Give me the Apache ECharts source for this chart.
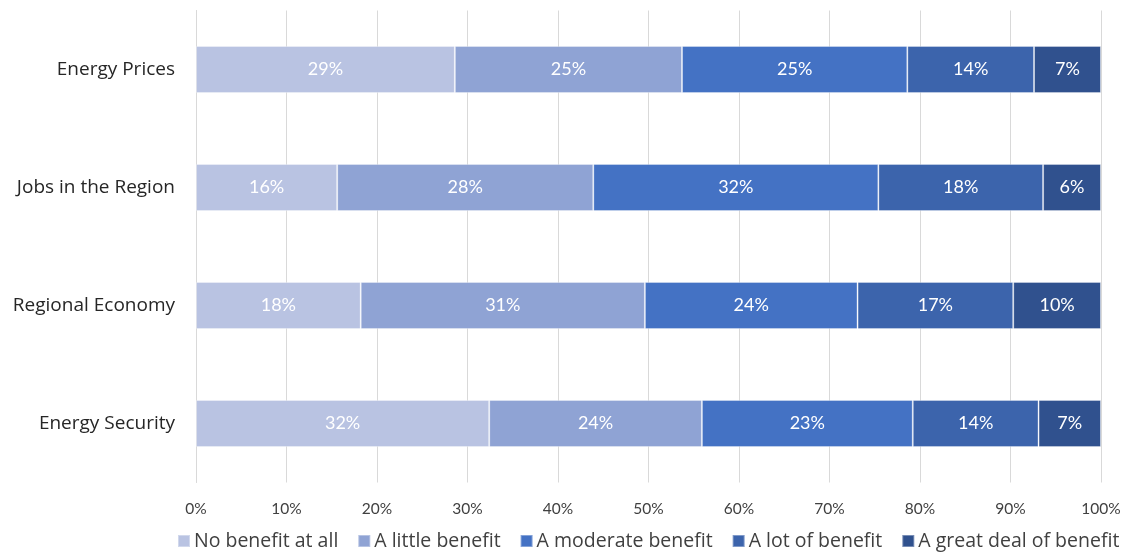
<!DOCTYPE html>
<html><head><meta charset="utf-8">
<script src="https://cdn.jsdelivr.net/npm/echarts@6/dist/echarts.min.js"></script>
<style>html,body{margin:0;padding:0;background:#fff}#c{width:1131px;height:556px}</style>
</head><body><div id="c"></div>
<script>
const categories = ["Energy Prices", "Jobs in the Region", "Regional Economy", "Energy Security"];
const seriesNames = ["No benefit at all", "A little benefit", "A moderate benefit", "A lot of benefit", "A great deal of benefit"];
const noBenefit = [28.6, 15.6, 18.2, 32.4];
const littleBenefit = [25.1, 28.3, 31.4, 23.5];
const moderateBenefit = [24.9, 31.5, 23.5, 23.3];
const lotBenefit = [14.0, 18.2, 17.2, 13.9];
const greatDeal = [7.4, 6.4, 9.7, 6.9];
const xTicks = [0, 10, 20, 30, 40, 50, 60, 70, 80, 90, 100];
const colors = ["#B9C3E2", "#8FA3D4", "#4472C4", "#3C64AC", "#30518E"];
const values = [noBenefit, littleBenefit, moderateBenefit, lotBenefit, greatDeal];
const font = "'Open Sans', Lato, sans-serif";

const chart = echarts.init(document.getElementById('c'), null, {renderer: 'canvas'});
chart.setOption({
  animation: false,
  textStyle: {fontFamily: font},
  grid: {left: 196, right: 30, top: 10.5, bottom: 73.5, containLabel: false},
  legend: {
    bottom: 0, left: 172, itemWidth: 12, itemHeight: 12, itemGap: 19,
    icon: 'rect',
    textStyle: {fontSize: 19.5, color: '#404040', fontFamily: font, padding: [0, 0, 0, -1]},
    data: seriesNames
  },
  xAxis: {
    type: 'value', min: 0, max: 100, interval: 10,
    axisLabel: {formatter: v => xTicks.includes(v) ? v + '%' : '', fontSize: 15.5, color: '#404040', margin: 18, fontFamily: "Lato, sans-serif"},
    splitLine: {lineStyle: {color: '#D9D9D9', width: 1}},
    axisLine: {show: false}, axisTick: {show: false}
  },
  yAxis: {
    type: 'category', data: categories, inverse: true,
    axisLine: {show: true, lineStyle: {color: '#D9D9D9'}},
    axisTick: {show: false},
    axisLabel: {fontSize: 19, color: '#262626', margin: 21}
  },
  series: seriesNames.map((name, i) => ({
    name, type: 'bar', stack: 'total', barWidth: '40%',
    data: values[i],
    itemStyle: {color: colors[i], borderColor: 'rgba(255,255,255,0.35)', borderWidth: 1},
    label: {show: true, position: 'inside', color: '#ffffff', fontSize: 18, fontFamily: "Lato, sans-serif",
      formatter: p => Math.round(p.value) + '%'}
  }))
});
</script></body></html>
